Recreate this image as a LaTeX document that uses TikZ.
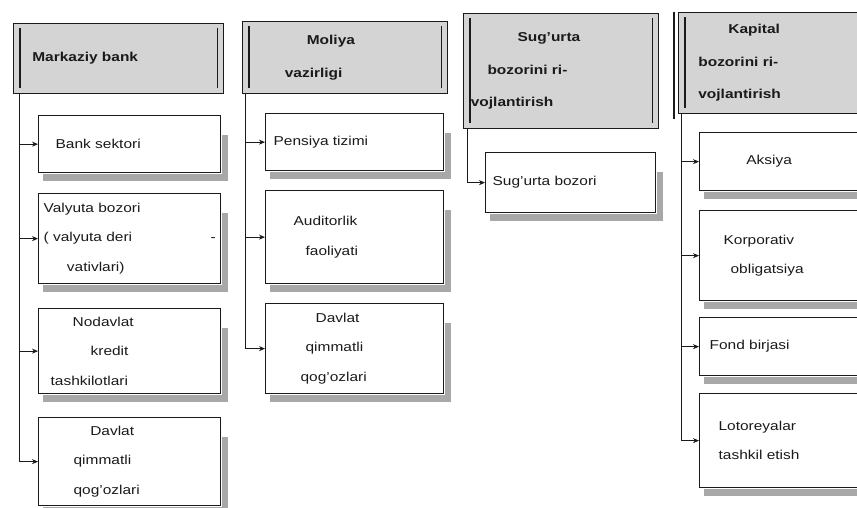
\documentclass[tikz,border=0pt]{standalone}
\usepackage{fontspec}
\setmainfont{Liberation Sans}[FakeStretch=1.2]
\usepackage{xcolor}
\definecolor{cLine}{HTML}{1A1A1A}
\definecolor{cHead}{HTML}{D4D4D4}
\definecolor{cShade}{HTML}{A8A8A8}
\usepackage{tikz}
\usetikzlibrary{positioning,arrows.meta}
\tikzset{
  node-head/.style={draw=cLine,line width=0.6pt,fill=cHead,anchor=north west,
    inner sep=0pt,font=\fontsize{11}{28}\selectfont\bfseries,align=left,
    path picture={
      \draw[line width=1.4pt,draw=cLine]
        ([xshift=0.2cm,yshift=-0.15cm]path picture bounding box.north west) --
        ([xshift=0.2cm,yshift=0.15cm]path picture bounding box.south west);
      \draw[line width=1.4pt,draw=cLine]
        ([xshift=-0.18cm,yshift=-0.15cm]path picture bounding box.north east) --
        ([xshift=-0.18cm,yshift=0.15cm]path picture bounding box.south east);
    }},
  node-item/.style={draw=cLine,line width=1.1pt,fill=white,anchor=north west,
    inner sep=0pt,align=left},
  node-shade/.style={fill=cShade,draw=none},
  head-edge/.style={line width=1.4pt,draw=cLine},
  arrow/.style={-{Stealth[length=1.8mm,width=1.5mm]},line width=0.6pt,draw=cLine},
}

\begin{document}
\begin{tikzpicture}[x=0.03cm,y=-0.03cm,text=cLine,
    font=\fontsize{11}{25}\selectfont]
  \useasboundingbox (0,0) rectangle (857,508);
  \clip (0,0) rectangle (857,508);
  % yuqori bloklar
  \node[node-head,minimum width=6.3cm,minimum height=2.1cm,text width=5.16cm]
    (mb) at (13,23) {Markaziy bank};
  \node[node-head,minimum width=6.15cm,minimum height=2.16cm,text width=3.6cm]
    (mv) at (242,21) {\hspace*{0.66cm}Moliya\\vazirligi};
  \node[node-head,minimum width=5.85cm,minimum height=3.45cm,text width=5.4cm]
    (sb) at (463,13) {\hspace*{1.4cm}Sug'urta\\\hspace*{0.5cm}bozorini ri-\\vojlantirish};
  \node[node-head,minimum width=6.3cm,minimum height=3.03cm,text width=5.1cm]
    (kb) at (678,12) {\hspace*{0.9cm}Kapital\\bozorini ri-\\vojlantirish};
  \draw[head-edge] ([xshift=-0.12cm]kb.north west) -- ++(0,-3.2cm);
  % Markaziy bank
  \node[node-item,minimum width=5.46cm,minimum height=1.71cm,text width=4.44cm]
    (bank) at (38,115) {Bank sektori};
  \node[node-item,minimum width=5.46cm,minimum height=2.7cm,text width=5.16cm]
    (valy) at (38,193) {Valyuta bozori\\( valyuta deri\hfill-\\\hspace*{0.7cm}vativlari)};
  \node[node-item,minimum width=5.46cm,minimum height=2.55cm,text width=4.74cm]
    (nbkt) at (38,308) {\hspace*{0.66cm}Nodavlat\\\hspace*{1.2cm}kredit\\tashkilotlari};
  \node[node-item,minimum width=5.46cm,minimum height=2.64cm,text width=3.36cm]
    (dqq1) at (38,417) {\hspace*{0.5cm}Davlat\\qimmatli\\qog'ozlari};
  % Moliya vazirligi
  \node[node-item,minimum width=5.34cm,minimum height=1.71cm,text width=4.86cm]
    (pens) at (265,113) {Pensiya tizimi};
  \node[node-item,minimum width=5.34cm,minimum height=2.79cm,text width=3.66cm]
    (audt) at (265,190) {Auditorlik\\\hspace*{0.36cm}faoliyati};
  \node[node-item,minimum width=5.34cm,minimum height=2.7cm,text width=3.24cm]
    (dqq2) at (265,303) {\hspace*{0.45cm}Davlat\\\hspace*{0.15cm}qimmatli\\qog'ozlari};
  % Sug'urta
  \node[node-item,minimum width=5.1cm,minimum height=1.8cm,text width=4.68cm]
    (sbz) at (485,152) {Sug'urta bozori};
  % Kapital
  \node[node-item,minimum width=5.7cm,minimum height=1.74cm,text width=5.1cm]
    (aks) at (699,132) {\hspace*{1.1cm}Aksiya};
  \node[node-item,minimum width=5.7cm,minimum height=2.7cm,text width=5.1cm]
    (korp) at (699,210) {\hspace*{0.42cm}Korporativ\\\hspace*{0.63cm}obligatsiya};
  \node[node-item,minimum width=5.7cm,minimum height=1.74cm,text width=5.1cm]
    (fond) at (699,317) {Fond birjasi};
  \node[node-item,minimum width=5.7cm,minimum height=2.82cm,text width=5.1cm]
    (lot) at (699,393) {\hspace*{0.27cm}Lotoreyalar\\\hspace*{0.27cm}tashkil etish};
  % soyalar: o'ng va pastki chiziq
  \foreach \n in {bank,valy,nbkt,dqq1,pens,audt,dqq2,sbz,aks,korp,fond,lot}{
    \fill[node-shade] ([xshift=0.02cm,yshift=-0.6cm]\n.north east) rectangle
      ([xshift=0.19cm,yshift=-0.2cm]\n.south east);
    \fill[node-shade] ([xshift=0.15cm,yshift=-0.02cm]\n.south west) rectangle
      ([xshift=0.19cm,yshift=-0.22cm]\n.south east);
  }
  % ulanishlar
  \coordinate (t1) at ([xshift=0.18cm]mb.south west);
  \coordinate (t2) at ([xshift=0.09cm]mv.south west);
  \coordinate (t3) at ([xshift=0.12cm]sb.south west);
  \coordinate (t4) at ([xshift=0.09cm]kb.south west);
  \draw[arrow] (t1) |- (bank.west);
  \draw[arrow] (t1) |- (valy.west);
  \draw[arrow] (t1) |- (nbkt.west);
  \draw[arrow] (t1) |- (dqq1.west);
  \draw[arrow] (t2) |- (pens.west);
  \draw[arrow] (t2) |- (audt.west);
  \draw[arrow] (t2) |- (dqq2.west);
  \draw[arrow] (t3) |- (sbz.west);
  \draw[arrow] (t4) |- (aks.west);
  \draw[arrow] (t4) |- (korp.west);
  \draw[arrow] (t4) |- (fond.west);
  \draw[arrow] (t4) |- (lot.west);
\end{tikzpicture}
\end{document}
